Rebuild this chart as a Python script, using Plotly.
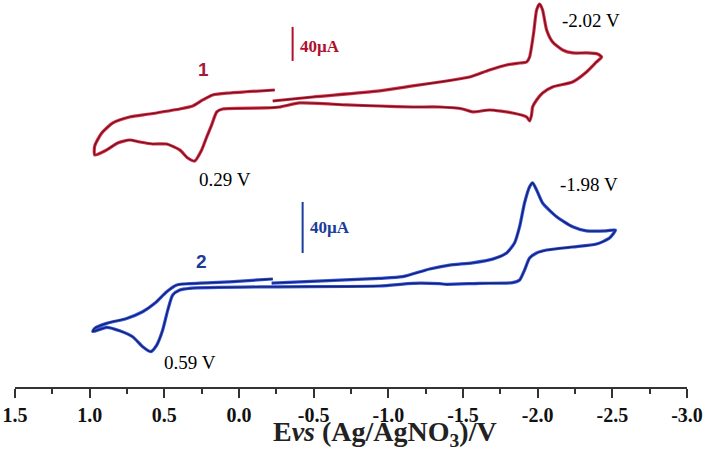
import plotly.graph_objects as go

# ---------------- data (potential in V, current in µA) ----------------
potential_1 = [-0.226, -0.493, -0.942, -1.163, -1.390, -1.544, -1.678, -1.792, -1.879, -1.926,
               -1.946, -1.973, -1.993, -2.013, -2.033, -2.060, -2.100, -2.167, -2.234, -2.327,
               -2.401, -2.428, -2.394, -2.327, -2.234, -2.100, -2.033, -1.993, -1.966, -1.959,
               -1.946, -1.926, -1.832, -1.678, -1.564, -1.497, -1.343, -1.163, -0.942, -0.721,
               -0.406, -0.272, -0.185, 0.109, 0.149, 0.183, 0.216, 0.250, 0.297, 0.343,
               0.397, 0.484, 0.578, 0.665, 0.732, 0.812, 0.886, 0.966, 0.966, 0.919,
               0.845, 0.732, 0.598, 0.397, 0.310, 0.243, 0.176, 0.062, -0.239]
current_1 = [4.7, 9.4, 16.5, 22.4, 28.2, 32.9, 41.2, 47.1, 49.4, 50.6,
             56.5, 84.7, 111.8, 118.8, 111.8, 88.2, 74.1, 64.7, 61.2, 61.2,
             60.0, 56.5, 50.6, 38.8, 27.1, 21.2, 14.1, 5.9, -2.4, -11.8,
             -18.8, -14.1, -9.4, -5.9, -8.2, -4.7, -2.4, -2.4, -1.2, 0.0,
             2.4, -2.4, -3.5, -4.7, -8.2, -23.5, -37.6, -52.9, -65.9, -62.4,
             -52.9, -45.9, -45.9, -43.5, -41.2, -44.7, -52.9, -58.8, -48.2, -32.9,
             -21.2, -14.1, -10.6, -4.7, -1.2, 5.9, 11.8, 14.1, 17.6]

potential_2 = [-0.219, -0.942, -1.096, -1.276, -1.410, -1.564, -1.698, -1.792, -1.845, -1.879,
               -1.912, -1.946, -1.966, -1.993, -2.033, -2.127, -2.234, -2.327, -2.461, -2.521,
               -2.481, -2.394, -2.234, -2.060, -1.993, -1.946, -1.912, -1.879, -1.832, -1.611,
               -1.390, -1.343, -1.163, -0.942, -0.219, 0.330, 0.397, 0.444, 0.477, 0.511,
               0.551, 0.591, 0.645, 0.712, 0.799, 0.886, 0.979, 0.966, 0.886, 0.752,
               0.645, 0.564, 0.484, 0.417, 0.330, 0.062, -0.226]
current_2 = [3.9, 7.6, 8.9, 14.9, 18.0, 19.8, 22.7, 27.5, 35.3, 48.1,
             66.7, 79.5, 82.6, 76.9, 66.7, 55.9, 48.1, 44.9, 44.9, 45.5,
             39.2, 34.5, 32.2, 29.8, 27.5, 23.5, 14.1, 6.3, 4.2, 3.7,
             2.9, 3.4, 3.7, 1.6, 1.0, -0.2, -1.6, -5.5, -17.3, -32.9,
             -44.7, -49.8, -46.0, -38.2, -33.5, -30.8, -34.1, -31.6, -27.7, -23.8,
             -18.6, -12.0, -2.9, 2.4, 3.5, 4.9, 7.1]

tick_vals = [1.5, 1.0, 0.5, 0.0, -0.5, -1.0, -1.5, -2.0, -2.5, -3.0]
tick_text = ["1.5", "1.0", "0.5", "0.0", "-0.5", "-1.0", "-1.5", "-2.0", "-2.5", "-3.0"]
minor_vals = [1.25, 0.75, 0.25, -0.25, -0.75, -1.25, -1.75, -2.25, -2.75]

peak_labels_1 = ["0.29 V", "-2.02 V"]
peak_label_pos_1 = [(0.096, -88.2), (-2.360, 98.8)]
peak_labels_2 = ["0.59 V", "-1.98 V"]
peak_label_pos_2 = [(0.330, -58.0), (-2.347, 81.6)]

scale_bar_1 = (-0.359, 51.8, 40)   # potential, start current, length (µA)
scale_bar_2 = (-0.426, 27.5, 40)

RED_LIGHT, RED_DARK = "#E0304A", "#6A1420"
BLUE_LIGHT, BLUE_DARK = "#2E55E6", "#1A1F5E"
SERIF = "Liberation Serif, Times New Roman, serif"

fig = go.Figure()
for xs, ys, light, dark, yax in [(potential_1, current_1, RED_LIGHT, RED_DARK, "y"),
                                 (potential_2, current_2, BLUE_LIGHT, BLUE_DARK, "y2")]:
    fig.add_trace(go.Scatter(x=xs, y=ys, mode="lines", yaxis=yax, cliponaxis=False,
                             line=dict(color=light, width=3.2, shape="spline", smoothing=0.6),
                             hoverinfo="skip"))
    fig.add_trace(go.Scatter(x=xs, y=ys, mode="lines", yaxis=yax, cliponaxis=False,
                             line=dict(color=dark, width=1.3, shape="spline", smoothing=0.6)))

# scale bars
for (v, i0, ln), col, yref in [(scale_bar_1, "#B0102E", "y"), (scale_bar_2, "#1A3C9A", "y2")]:
    fig.add_shape(type="line", x0=v, x1=v, y0=i0, y1=i0 + ln, xref="x", yref=yref,
                  line=dict(color=col, width=2))
    fig.add_annotation(x=v - 0.035, y=i0 + ln / 2 + (-3 if yref == "y" else 0), xref="x", yref=yref,
                       text="<b>40µA</b>", showarrow=False, xanchor="left", yanchor="middle",
                       font=dict(family=SERIF, size=17, color=col))

# compound labels
fig.add_annotation(x=0.237, y=41.2, xref="x", yref="y", text="<b>1</b>", showarrow=False,
                   font=dict(family="Liberation Sans, Arial", size=19, color="#A8183A"))
fig.add_annotation(x=0.250, y=21.2, xref="x", yref="y2", text="<b>2</b>", showarrow=False,
                   font=dict(family="Liberation Sans, Arial", size=19, color="#1A3C96"))

for labels, pos, yref in [(peak_labels_1, peak_label_pos_1, "y"), (peak_labels_2, peak_label_pos_2, "y2")]:
    for t, (xv, yv) in zip(labels, pos):
        fig.add_annotation(x=xv, y=yv, xref="x", yref=yref, text=t, showarrow=False,
                           font=dict(family=SERIF, size=19, color="black"))

# axis title
fig.add_annotation(x=0.5506, y=-0.12, xref="paper", yref="paper",
                   text="<b>E<i>vs</i> (Ag/AgNO<sub>3</sub>)/V</b>", showarrow=False,
                   xanchor="center", yanchor="middle",
                   font=dict(family=SERIF, size=28, color="#222"))

fig.update_layout(
    width=708, height=463,
    margin=dict(l=15, r=21, t=0, b=76, autoexpand=False),
    paper_bgcolor="white", plot_bgcolor="white",
    showlegend=False,
    xaxis=dict(range=[1.5, -3.0], showline=True, linecolor="#333", linewidth=2,
               ticks="outside", ticklen=9, tickwidth=2, tickcolor="#333",
               tickvals=tick_vals, ticktext=tick_text, showgrid=False, zeroline=False,
               automargin=False,
               tickfont=dict(family=SERIF, size=20, color="#111", weight="bold"),
               minor=dict(tickvals=minor_vals, ticks="outside", ticklen=5, tickwidth=2,
                          tickcolor="#333", showgrid=False)),
    yaxis=dict(range=[-331.8, 123.5], visible=False),
    yaxis2=dict(range=[-77.6, 225.9], visible=False, overlaying="y"),
)

fig.write_html("out.html", config={"displayModeBar": False},
               post_script="document.body.style.margin='0px';")
